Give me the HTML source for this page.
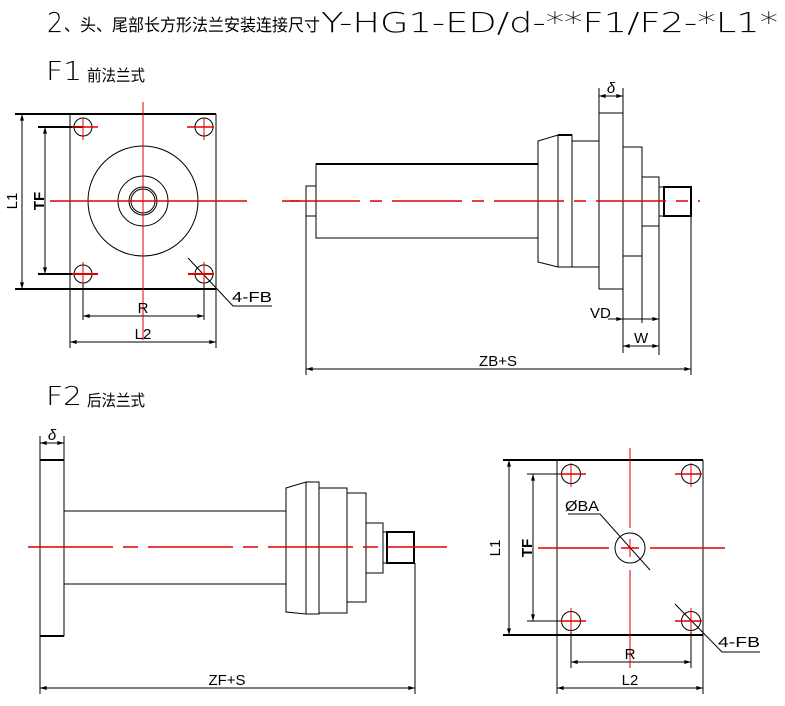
<!DOCTYPE html>
<html><head><meta charset="utf-8"><style>
html,body{margin:0;padding:0;background:#fff;}
svg{display:block;}
text{font-family:"Liberation Sans","Noto Sans CJK SC",sans-serif;fill:#000;}
.thin{font-family:"DejaVu Sans ExtraLight","DejaVu Sans","Liberation Sans",sans-serif;font-weight:200;}
</style></head><body>
<svg width="785" height="706" viewBox="0 0 785 706" xmlns="http://www.w3.org/2000/svg">
<defs>
<marker id="a" viewBox="0 0 10 6" refX="10" refY="3" markerWidth="8" markerHeight="4" orient="auto-start-reverse"><path d="M0,0 L10,3 L0,6 z" fill="#000"/></marker>
</defs>
<!-- Titles -->
<text class="thin" x="47" y="32" font-size="28" textLength="16" lengthAdjust="spacingAndGlyphs">2</text>
<text x="64" y="31" font-size="17" textLength="256" lengthAdjust="spacingAndGlyphs">、头、尾部长方形法兰安装连接尺寸</text>
<text class="thin" x="321" y="32" font-size="28" textLength="457" lengthAdjust="spacingAndGlyphs">Y-HG1-ED/d-**F1/F2-*L1*</text>
<text class="thin" x="46" y="80" font-size="26" textLength="36" lengthAdjust="spacingAndGlyphs">F1</text>
<text x="87" y="81" font-size="16" textLength="58" lengthAdjust="spacingAndGlyphs">前法兰式</text>
<text class="thin" x="46" y="405" font-size="26" textLength="36" lengthAdjust="spacingAndGlyphs">F2</text>
<text x="87" y="406" font-size="16" textLength="58" lengthAdjust="spacingAndGlyphs">后法兰式</text>

<g stroke="#000" fill="none" stroke-width="1">
<!-- F1 front view -->
<line x1="70" y1="114" x2="70" y2="348"/>
<line x1="216" y1="114" x2="216" y2="348"/>
<line x1="15" y1="114" x2="216" y2="114" stroke-width="2"/>
<line x1="15" y1="289" x2="216" y2="289" stroke-width="2"/>
<line x1="22" y1="114" x2="22" y2="289" marker-start="url(#a)" marker-end="url(#a)"/>
<line x1="38" y1="127" x2="83" y2="127" stroke-width="2"/>
<line x1="38" y1="274" x2="83" y2="274" stroke-width="2"/>
<line x1="45" y1="127" x2="45" y2="274" marker-start="url(#a)" marker-end="url(#a)"/>
<circle cx="83" cy="127" r="9"/><circle cx="204" cy="127" r="9"/>
<circle cx="83" cy="274" r="9"/><circle cx="204" cy="274" r="9"/>
<circle cx="143" cy="201" r="55"/>
<circle cx="143" cy="201" r="25"/>
<circle cx="143" cy="201" r="14"/>
<circle cx="143" cy="201" r="12"/>
<line x1="83" y1="274" x2="83" y2="320"/>
<line x1="204" y1="274" x2="204" y2="320"/>
<line x1="83" y1="316" x2="204" y2="316" marker-start="url(#a)" marker-end="url(#a)"/>
<line x1="70" y1="342" x2="216" y2="342" marker-start="url(#a)" marker-end="url(#a)"/>
<polyline points="188,258 233,306 272,306"/>

<!-- F1 side view -->
<rect x="306" y="186" width="10" height="30"/>
<rect x="316" y="164" width="222" height="74"/>
<line x1="316" y1="164" x2="538" y2="164" stroke-width="2"/>
<polygon points="538,141 558,135 558,267 538,262"/>
<rect x="558" y="135" width="14" height="132"/>
<line x1="558" y1="135" x2="572" y2="135" stroke-width="2"/>
<rect x="572" y="141" width="27" height="126"/>
<rect x="599" y="113" width="24" height="176"/>
<rect x="623" y="147" width="19" height="109"/>
<rect x="642" y="177" width="17" height="49"/>
<rect x="659" y="187" width="5" height="29"/>
<rect x="664" y="187" width="27" height="29" stroke-width="2"/>
<line x1="599" y1="113" x2="599" y2="88"/>
<line x1="623" y1="113" x2="623" y2="88"/>
<line x1="599" y1="96" x2="623" y2="96" marker-start="url(#a)" marker-end="url(#a)"/>
<line x1="623" y1="289" x2="623" y2="353"/>
<line x1="642" y1="256" x2="642" y2="323"/>
<line x1="659" y1="226" x2="659" y2="355"/>
<line x1="608" y1="319" x2="623" y2="319" marker-end="url(#a)"/>
<line x1="623" y1="319" x2="659" y2="319" marker-end="url(#a)"/>
<line x1="623" y1="346" x2="659" y2="346" marker-start="url(#a)" marker-end="url(#a)"/>
<line x1="306" y1="216" x2="306" y2="375"/>
<line x1="691" y1="216" x2="691" y2="375"/>
<line x1="306" y1="369" x2="691" y2="369" marker-start="url(#a)" marker-end="url(#a)"/>

<!-- F2 side view -->
<rect x="40" y="460" width="24" height="176"/>
<line x1="40" y1="460" x2="64" y2="460" stroke-width="2"/>
<line x1="40" y1="636" x2="64" y2="636" stroke-width="2"/>
<line x1="40" y1="460" x2="40" y2="436"/>
<line x1="64" y1="460" x2="64" y2="436"/>
<line x1="40" y1="443" x2="64" y2="443" marker-start="url(#a)" marker-end="url(#a)"/>
<rect x="64" y="511" width="222" height="73"/>
<polygon points="286,488 306,482 306,614 286,612"/>
<rect x="306" y="482" width="13" height="132"/>
<rect x="319" y="488" width="28" height="125"/>
<rect x="347" y="493" width="19" height="109"/>
<rect x="366" y="523" width="17" height="50"/>
<rect x="383" y="532" width="4" height="31"/>
<rect x="387" y="532" width="27" height="31" stroke-width="2"/>
<line x1="40" y1="636" x2="40" y2="694"/>
<line x1="415" y1="563" x2="415" y2="694"/>
<line x1="40" y1="688" x2="415" y2="688" marker-start="url(#a)" marker-end="url(#a)"/>

<!-- F2 rear view -->
<line x1="557" y1="460" x2="557" y2="694"/>
<line x1="703" y1="460" x2="703" y2="694"/>
<line x1="503" y1="460" x2="703" y2="460" stroke-width="2"/>
<line x1="503" y1="635" x2="703" y2="635" stroke-width="2"/>
<line x1="509" y1="460" x2="509" y2="635" marker-start="url(#a)" marker-end="url(#a)"/>
<line x1="527" y1="474" x2="571" y2="474"/>
<line x1="527" y1="621" x2="571" y2="621"/>
<line x1="533" y1="474" x2="533" y2="621" marker-start="url(#a)" marker-end="url(#a)"/>
<circle cx="571" cy="474" r="9.5"/><circle cx="691" cy="474" r="9.5"/>
<circle cx="571" cy="621" r="9.5"/><circle cx="691" cy="621" r="9.5"/>
<circle cx="630" cy="548" r="15"/>
<line x1="571" y1="621" x2="571" y2="668"/>
<line x1="691" y1="621" x2="691" y2="668"/>
<line x1="571" y1="662" x2="691" y2="662" marker-start="url(#a)" marker-end="url(#a)"/>
<line x1="557" y1="688" x2="703" y2="688" marker-start="url(#a)" marker-end="url(#a)"/>
<polyline points="568,514 600,514 650,570"/>
<polyline points="675,604 722,652 760,652"/>
</g>

<!-- red center lines -->
<g stroke="#e00000" stroke-width="1.5" fill="none">
<line x1="50" y1="201" x2="247" y2="201"/>
<line x1="282" y1="201" x2="300" y2="201"/>
<line x1="143" y1="102" x2="143" y2="340" stroke-width="1"/>
<line x1="72" y1="127" x2="98" y2="127"/><line x1="83" y1="118" x2="83" y2="140" stroke-width="1"/>
<line x1="187" y1="127" x2="214" y2="127"/><line x1="204" y1="118" x2="204" y2="140" stroke-width="1"/>
<line x1="72" y1="274" x2="98" y2="274" stroke-width="2"/><line x1="83" y1="262" x2="83" y2="284" stroke-width="1"/>
<line x1="188" y1="274" x2="214" y2="274" stroke-width="2"/><line x1="204" y1="262" x2="204" y2="284" stroke-width="1"/>
<line x1="290" y1="201" x2="700" y2="201" stroke-dasharray="70,10,12,10"/>
<line x1="28" y1="547" x2="447" y2="547" stroke-dasharray="85,10,15,10"/>
<line x1="538" y1="548" x2="609" y2="548"/>
<line x1="650" y1="548" x2="725" y2="548"/>
<line x1="621" y1="548" x2="639" y2="548"/>
<line x1="630" y1="448" x2="630" y2="528" stroke-width="1"/>
<line x1="630" y1="539" x2="630" y2="557" stroke-width="1"/>
<line x1="630" y1="570" x2="630" y2="668" stroke-width="1"/>
<line x1="560" y1="474" x2="586" y2="474"/><line x1="571" y1="463" x2="571" y2="487" stroke-width="1"/>
<line x1="675" y1="474" x2="702" y2="474"/><line x1="691" y1="463" x2="691" y2="487" stroke-width="1"/>
<line x1="560" y1="621" x2="586" y2="621"/><line x1="571" y1="608" x2="571" y2="632" stroke-width="1"/>
<line x1="675" y1="621" x2="702" y2="621"/><line x1="691" y1="608" x2="691" y2="632" stroke-width="1"/>
</g>

<!-- labels -->
<g font-size="15">
<text x="12" y="206" transform="rotate(-90 12 201)" text-anchor="middle">L1</text>
<text x="39" y="206" transform="rotate(-90 39 201)" text-anchor="middle" font-weight="bold">TF</text>
<text x="143" y="313" text-anchor="middle">R</text>
<text x="143" y="339" text-anchor="middle">L2</text>
<text x="232" y="302" textLength="40" lengthAdjust="spacingAndGlyphs">4-FB</text>
<text x="611" y="93" text-anchor="middle" font-style="italic">δ</text>
<text x="590" y="318">VD</text>
<text x="634" y="343">W</text>
<text x="498" y="366" text-anchor="middle">ZB+S</text>
<text x="52" y="440" text-anchor="middle" font-style="italic">δ</text>
<text x="227" y="685" text-anchor="middle">ZF+S</text>
<text x="495" y="553" transform="rotate(-90 495 548)" text-anchor="middle">L1</text>
<text x="527" y="553" transform="rotate(-90 527 548)" text-anchor="middle" font-weight="bold">TF</text>
<text x="565" y="511" textLength="34" lengthAdjust="spacingAndGlyphs">ØBA</text>
<text x="630" y="659" text-anchor="middle">R</text>
<text x="630" y="685" text-anchor="middle">L2</text>
<text x="718" y="647" textLength="42" lengthAdjust="spacingAndGlyphs">4-FB</text>
</g>
</svg>
</body></html>
